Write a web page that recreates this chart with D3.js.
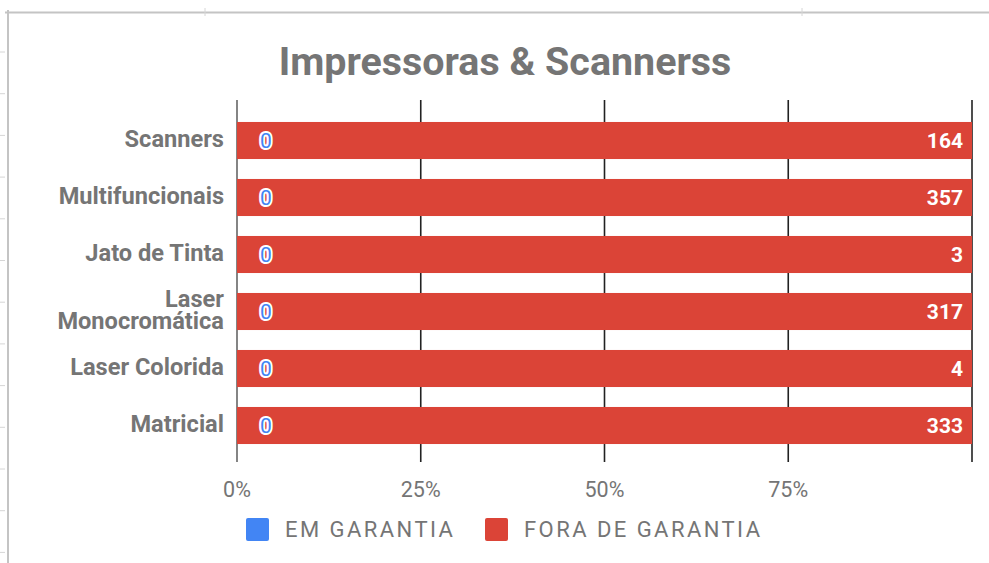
<!DOCTYPE html>
<html>
<head>
<meta charset="utf-8">
<script src="https://cdn.jsdelivr.net/npm/d3@7.9.0/dist/d3.min.js"></script>
<style>
  body { margin: 0; background: #fff; }
  svg { display: block; font-family: Roboto, "Noto Sans", sans-serif; }
</style>
</head>
<body>
<div id="chart"></div>
<script>
const title = 'Impressoras & Scannerss';
const categories = ['Scanners', 'Multifuncionais', 'Jato de Tinta', 'Laser Monocromática', 'Laser Colorida', 'Matricial'];
const emGarantia = [0, 0, 0, 0, 0, 0];
const foraGarantia = [164, 357, 3, 317, 4, 333];
const seriesNames = ['EM GARANTIA', 'FORA DE GARANTIA'];
const tickValues = [0, 0.25, 0.5, 0.75, 1];

const width = 989, height = 563;
const colors = ['#4285f4', '#db4437'];

const svg = d3.select('#chart').append('svg')
  .attr('width', width)
  .attr('height', height);

// spreadsheet frame behind the chart
const frame = svg.append('g').attr('class', 'frame');
frame.append('line').attr('x1', 5).attr('x2', width).attr('y1', 12.5).attr('y2', 12.5)
  .attr('stroke', '#c4c4c4').attr('stroke-width', 2);
frame.append('line').attr('x1', 8).attr('x2', 8).attr('y1', 10).attr('y2', height)
  .attr('stroke', '#c4c4c4').attr('stroke-width', 2);
frame.selectAll('.rowtick').data(d3.range(52, height, 41.7)).join('line')
  .attr('x1', 0).attr('x2', 5).attr('y1', d => d).attr('y2', d => d)
  .attr('stroke', '#d6d6d6');
frame.selectAll('.coltick').data([205, 802]).join('line')
  .attr('x1', d => d).attr('x2', d => d).attr('y1', 8).attr('y2', 16)
  .attr('stroke', '#d6d6d6');

const rows = categories.map((c, i) => ({ cat: c, em: emGarantia[i], fora: foraGarantia[i] }));
const stack = d3.stack().keys(['em', 'fora']).offset(d3.stackOffsetExpand);
const series = stack(rows);

const x = d3.scaleLinear().domain([0, 1]).range([237, 972]);
const y = d3.scaleBand().domain(categories).range([112, 454]).paddingInner(0.35).paddingOuter(0.175);

// title
svg.append('text')
  .attr('x', 505).attr('y', 75)
  .attr('text-anchor', 'middle')
  .attr('font-size', 39.4).attr('font-weight', 'bold')
  .attr('fill', '#757575')
  .text(title);

// vertical gridlines
svg.append('g')
  .selectAll('line').data(tickValues).join('line')
  .attr('x1', d => x(d)).attr('x2', d => x(d))
  .attr('y1', 100).attr('y2', 462)
  .attr('stroke', d => d === 0 ? '#666' : '#222')
  .attr('stroke-width', 1.6);

// bars
svg.append('g').selectAll('g').data(series).join('g')
  .attr('fill', (d, i) => colors[i])
  .selectAll('rect').data(d => d).join('rect')
  .attr('x', d => x(d[0]))
  .attr('width', d => x(d[1]) - x(d[0]))
  .attr('y', d => y(d.data.cat))
  .attr('height', y.bandwidth());

// value labels
const labels = svg.append('g').attr('font-weight', 'bold').attr('font-size', 21);
labels.selectAll('.fora').data(rows).join('text')
  .attr('x', x(1) - 9)
  .attr('y', d => y(d.cat) + y.bandwidth() / 2)
  .attr('dy', '0.36em')
  .attr('text-anchor', 'end')
  .attr('fill', '#fff')
  .text(d => d.fora);
labels.selectAll('.em').data(rows).join('text')
  .attr('x', x(0) + 29)
  .attr('y', d => y(d.cat) + y.bandwidth() / 2)
  .attr('dy', '0.36em')
  .attr('text-anchor', 'middle')
  .attr('font-weight', 'normal')
  .attr('fill', colors[0])
  .attr('stroke', '#fff').attr('stroke-width', 4)
  .attr('paint-order', 'stroke')
  .attr('stroke-linejoin', 'round')
  .text(d => d.em);

// category labels
const catLabels = svg.append('g').attr('font-weight', 'bold').attr('font-size', 23.6).attr('fill', '#757575');
catLabels.selectAll('text').data(categories).join('text')
  .attr('text-anchor', 'end')
  .attr('transform', d => `translate(224, ${y(d) + y.bandwidth() / 2 - 2})`)
  .each(function (d) {
    const words = d === 'Laser Monocromática' ? ['Laser', 'Monocromática'] : [d];
    const t = d3.select(this);
    words.forEach((w, i) => {
      t.append('tspan').attr('x', 0)
        .attr('y', (i - (words.length - 1) / 2) * 22)
        .attr('dy', '0.36em')
        .text(w);
    });
  });

// x axis tick labels
svg.append('g').selectAll('text').data(tickValues.slice(0, 4)).join('text')
  .attr('x', d => x(d)).attr('y', 497)
  .attr('text-anchor', 'middle')
  .attr('font-size', 21.5)
  .attr('fill', '#757575')
  .text(d => d3.format('.0%')(d));

// legend
const legend = svg.append('g').attr('font-size', 22).attr('fill', '#757575');
const legendX = [246, 485];
seriesNames.forEach((name, i) => {
  legend.append('rect')
    .attr('x', legendX[i]).attr('y', 518)
    .attr('width', 23).attr('height', 23).attr('rx', 2)
    .attr('fill', colors[i]);
  legend.append('text')
    .attr('x', legendX[i] + 39).attr('y', 537)
    .attr('letter-spacing', 2.45)
    .text(name);
});
</script>
</body>
</html>
